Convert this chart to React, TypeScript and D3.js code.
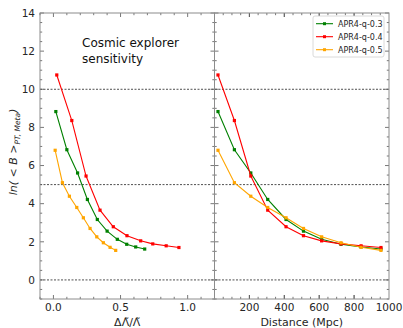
import React from "react";
import * as d3 from "d3";

const seriesNames = ["APR4-q-0.3", "APR4-q-0.4", "APR4-q-0.5"];
const seriesColors = ["#008000", "#ff0000", "#ffa500"];
const lambdaErr03 = [0.018, 0.1, 0.18, 0.253, 0.327, 0.4, 0.476, 0.546, 0.613, 0.68];
const lambdaErr04 = [0.025, 0.137, 0.243, 0.347, 0.446, 0.548, 0.65, 0.74, 0.84, 0.935];
const lambdaErr05 = [0.013, 0.067, 0.119, 0.174, 0.223, 0.273, 0.323, 0.372, 0.422, 0.464];
const lnB03 = [8.83, 6.83, 5.61, 4.22, 3.17, 2.56, 2.13, 1.87, 1.73, 1.62];
const lnB04 = [10.75, 8.36, 5.45, 3.66, 2.79, 2.32, 2.05, 1.89, 1.79, 1.7];
const lnB05 = [6.8, 5.1, 4.39, 3.8, 3.26, 2.7, 2.26, 1.95, 1.71, 1.55];
const distances = [20, 114, 208, 305, 410, 510, 614, 725, 840, 954];
const yTicks = [0, 2, 4, 6, 8, 10, 12, 14];
const leftXTicks = [0, 0.5, 1.0];
const rightXTicks = [200, 400, 600, 800, 1000];
const refLines = [0, 5, 10];

const W = 403, H = 328;
const top = 13, bottom = 299;
const lx0 = 40, lx1 = 214.5, rx1 = 389;

export default function App() {
  const y = d3.scaleLinear().domain([-1, 14]).range([bottom, top]);
  const xl = d3.scaleLinear().domain([-0.1, 1.2]).range([lx0, lx1]);
  const xr = d3.scaleLinear().domain([0, 1000]).range([lx1, rx1]);
  const lambdaSets = [lambdaErr03, lambdaErr04, lambdaErr05];
  const lnSets = [lnB03, lnB04, lnB05];
  const spine = "#8c8c8c";
  const tickCol = "#555";
  const labCol = "#262626";
  const font = "DejaVu Sans, sans-serif";

  const yMinor = d3.range(-1, 14.01, 0.5);
  const xlMinor = d3.range(-0.1, 1.2001, 0.1);
  const xrMinor = d3.range(50, 1000, 50);

  const lineL = (i: number) =>
    d3.line<number>().x((_, k) => xl(lambdaSets[i][k])).y((v) => y(v))(lnSets[i]) || "";
  const lineR = (i: number) =>
    d3.line<number>().x((_, k) => xr(distances[k])).y((v) => y(v))(lnSets[i]) || "";

  const ticksY = (x: number, dir: number) => (
    <g>
      {yMinor.map((v, k) => {
        const major = Math.abs(v - Math.round(v / 2) * 2) < 1e-6;
        const len = major ? 4 : 2.2;
        return <line key={k} x1={x} x2={x + dir * len} y1={y(v)} y2={y(v)} stroke={tickCol} strokeWidth={0.8} />;
      })}
    </g>
  );
  const ticksX = (vals: number[], sc: any, majors: number[]) => (
    <g>
      {vals.map((v, k) => {
        const major = majors.some((m) => Math.abs(m - v) < 1e-6);
        const len = major ? 4 : 2.2;
        return (
          <g key={k}>
            <line x1={sc(v)} x2={sc(v)} y1={bottom} y2={bottom - len} stroke={tickCol} strokeWidth={0.8} />
            <line x1={sc(v)} x2={sc(v)} y1={top} y2={top + len} stroke={tickCol} strokeWidth={0.8} />
          </g>
        );
      })}
    </g>
  );

  return (
    <svg width={W} height={H} style={{ position: "absolute", left: 0, top: 0, background: "#fff" }} fontFamily={font}>
      {refLines.map((v) => (
        <line key={v} x1={lx0} x2={rx1} y1={y(v)} y2={y(v)} stroke="#222" strokeWidth={0.8} strokeDasharray="2,1.5" />
      ))}
      {ticksY(lx0, 1)}
      {ticksY(lx1, -1)}
      {ticksY(lx1, 1)}
      {ticksY(rx1, -1)}
      {ticksX(xlMinor, xl, leftXTicks)}
      {ticksX(xrMinor.concat(rightXTicks.filter((v) => v < 1000)), xr, rightXTicks)}
      {seriesNames.map((n, i) => (
        <g key={n}>
          <path d={lineL(i)} fill="none" stroke={seriesColors[i]} strokeWidth={1.1} />
          <path d={lineR(i)} fill="none" stroke={seriesColors[i]} strokeWidth={1.1} />
          {lnSets[i].map((v, k) => (
            <g key={k}>
              <rect x={xl(lambdaSets[i][k]) - 1.6} y={y(v) - 1.6} width={3.2} height={3.2} fill={seriesColors[i]} />
              <rect x={xr(distances[k]) - 1.6} y={y(v) - 1.6} width={3.2} height={3.2} fill={seriesColors[i]} />
            </g>
          ))}
        </g>
      ))}
      <rect x={lx0} y={top} width={lx1 - lx0} height={bottom - top} fill="none" stroke={spine} strokeWidth={1} />
      <rect x={lx1} y={top} width={rx1 - lx1} height={bottom - top} fill="none" stroke={spine} strokeWidth={1} />
      {yTicks.map((v) => (
        <text key={v} x={lx0 - 5} y={y(v)} dy="0.36em" textAnchor="end" fontSize={10.5} fill={labCol}>
          {v}
        </text>
      ))}
      {leftXTicks.map((v) => (
        <text key={v} x={xl(v)} y={bottom + 12} textAnchor="middle" fontSize={10.5} fill={labCol}>
          {v.toFixed(1)}
        </text>
      ))}
      {rightXTicks.map((v) => (
        <text key={v} x={xr(v)} y={bottom + 12} textAnchor="middle" fontSize={10.5} fill={labCol}>
          {v}
        </text>
      ))}
      <text x={(lx0 + lx1) / 2} y={326} textAnchor="middle" fontSize={11} fill={labCol}>
        ΔΛ̃/Λ̃
      </text>
      <text x={(lx1 + rx1) / 2} y={326} textAnchor="middle" fontSize={11} fill={labCol}>
        Distance (Mpc)
      </text>
      <text transform={`translate(17,${(top + bottom) / 2 - 4}) rotate(-90)`} textAnchor="middle" fontSize={11} fill={labCol} fontStyle="italic">
        ln( &lt; B &gt;
        <tspan fontSize={7.5} dy="3">PT, Meta</tspan>
        <tspan dy="-3">)</tspan>
      </text>
      <text x={82} y={47} fontSize={12} fill="#111">Cosmic explorer</text>
      <text x={82} y={63} fontSize={12} fill="#111">sensitivity</text>
      <rect x={313} y={16} width={71} height={41} rx={2} fill="#fff" stroke="#d0d0d0" strokeWidth={0.8} />
      {seriesNames.map((n, i) => {
        const ly = 23.7 + i * 13;
        return (
          <g key={n}>
            <line x1={316} x2={333} y1={ly} y2={ly} stroke={seriesColors[i]} strokeWidth={1.1} />
            <rect x={324.5 - 1.5} y={ly - 1.5} width={3} height={3} fill={seriesColors[i]} />
            <text x={338} y={ly} dy="0.35em" fontSize={8} fill={labCol}>
              {n}
            </text>
          </g>
        );
      })}
    </svg>
  );
}
